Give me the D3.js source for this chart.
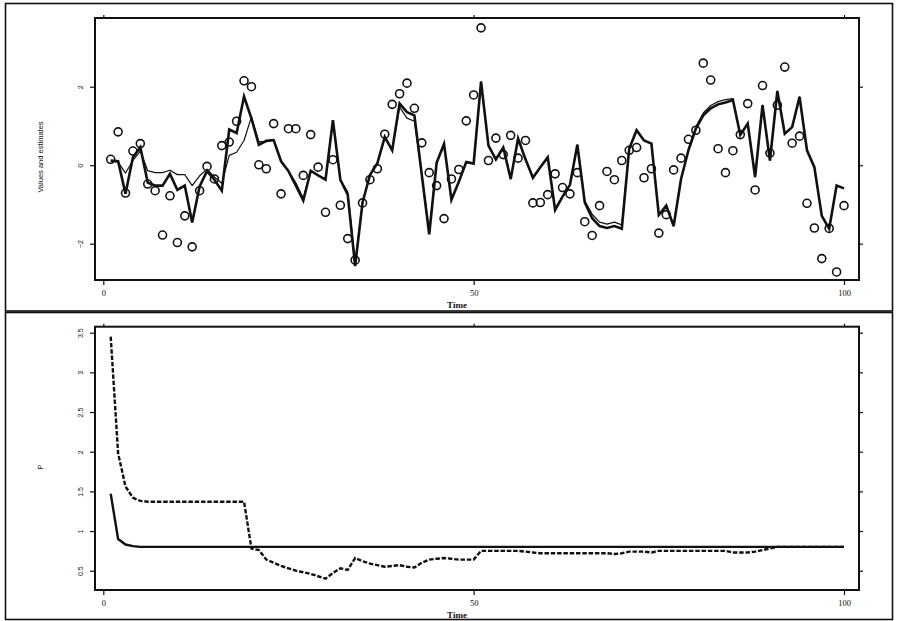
<!DOCTYPE html>
<html>
<head>
<meta charset="utf-8">
<script src="https://cdn.jsdelivr.net/npm/d3@7"></script>
<style>
  body { margin: 0; background: #fff; }
  svg { display: block; }
</style>
</head>
<body>
<svg id="chart" width="898" height="621"></svg>
<script>
// time index 1..100
const time = d3.range(1, 101);

// observed values (circles), top panel
const observed = [
  0.15, 0.85, -0.71, 0.36, 0.55, -0.48, -0.65, -1.78, -0.78, -1.97,
  -1.29, -2.08, -0.65, -0.03, -0.35, 0.50, 0.59, 1.12, 2.15, 2.00,
  0.01, -0.09, 1.06, -0.73, 0.93, 0.93, -0.26, 0.78, -0.05, -1.20,
  0.14, -1.02, -1.87, -2.42, -0.96, -0.37, -0.09, 0.79, 1.55, 1.82,
  2.09, 1.45, 0.57, -0.19, -0.52, -1.36, -0.35, -0.11, 1.13, 1.79,
  3.50, 0.12, 0.69, 0.27, 0.76, 0.18, 0.63, -0.96, -0.95, -0.75,
  -0.22, -0.57, -0.73, -0.19, -1.44, -1.79, -1.03, -0.16, -0.37, 0.12,
  0.38, 0.45, -0.32, -0.09, -1.73, -1.26, -0.12, 0.18, 0.66, 0.89,
  2.60, 2.17, 0.42, -0.19, 0.37, 0.78, 1.57, -0.63, 2.03, 0.31,
  1.53, 2.50, 0.56, 0.74, -0.97, -1.60, -2.38, -1.61, -2.72, -1.03
];

// thick estimate
const estA = [
  0.12, 0.10, -0.73, 0.20, 0.46, -0.44, -0.52, -0.52, -0.22, -0.63,
  -0.52, -1.46, -0.54, -0.15, -0.37, -0.65, 0.91, 0.82, 1.75, 1.19,
  0.52, 0.62, 0.64, 0.10, -0.15, -0.52, -0.90, -0.14, -0.26, -0.37,
  1.15, -0.37, -0.75, -2.57, -0.95, -0.25, 0.05, 0.72, 0.38, 1.57,
  1.35, 1.27, -0.25, -1.76, 0.06, 0.54, -0.88, -0.42, 0.08, 0.04,
  2.13, 0.50, 0.15, 0.45, -0.35, 0.68, 0.15, -0.32, -0.05, 0.20,
  -1.14, -0.80, -0.50, 0.52, -0.95, -1.35, -1.55, -1.60, -1.55, -1.62,
  0.42, 0.89, 0.63, 0.55, -1.27, -1.03, -1.55, -0.35, 0.38, 0.93,
  1.27, 1.45, 1.55, 1.60, 1.66, 0.77, 1.06, -0.30, 1.53, 0.12,
  1.89, 0.80, 0.97, 1.74, 0.38, -0.05, -1.29, -1.62, -0.52, -0.59
];

// thin estimate
const estB = [
  0.10, 0.08, -0.20, 0.12, 0.36, -0.14, -0.19, -0.19, -0.13, -0.24,
  -0.24, -0.52, -0.27, -0.10, -0.30, -0.46, 0.25, 0.33, 0.63, 1.23,
  0.60, 0.60, 0.64, 0.10, -0.15, -0.45, -0.84, -0.14, -0.26, -0.37,
  1.12, -0.37, -0.68, -2.45, -0.95, -0.25, 0.05, 0.70, 0.38, 1.48,
  1.20, 1.12, -0.25, -1.70, 0.06, 0.54, -0.86, -0.42, 0.08, 0.04,
  2.13, 0.50, 0.15, 0.45, -0.35, 0.68, 0.15, -0.32, -0.05, 0.20,
  -1.12, -0.80, -0.50, 0.52, -0.90, -1.25, -1.45, -1.50, -1.45, -1.52,
  0.42, 0.89, 0.63, 0.55, -1.27, -1.03, -1.55, -0.35, 0.42, 0.98,
  1.33, 1.52, 1.62, 1.67, 1.70, 0.77, 1.06, -0.30, 1.53, 0.12,
  1.89, 0.80, 0.97, 1.74, 0.38, -0.05, -1.29, -1.62, -0.52, -0.59
];

// bottom panel, solid line
const pSolid = [
  1.47, 0.90, 0.83, 0.81, 0.80, 0.80, 0.80, 0.80, 0.80, 0.80,
  0.80, 0.80, 0.80, 0.80, 0.80, 0.80, 0.80, 0.80, 0.80, 0.80,
  0.80, 0.80, 0.80, 0.80, 0.80, 0.80, 0.80, 0.80, 0.80, 0.80,
  0.80, 0.80, 0.80, 0.80, 0.80, 0.80, 0.80, 0.80, 0.80, 0.80,
  0.80, 0.80, 0.80, 0.80, 0.80, 0.80, 0.80, 0.80, 0.80, 0.80,
  0.80, 0.80, 0.80, 0.80, 0.80, 0.80, 0.80, 0.80, 0.80, 0.80,
  0.80, 0.80, 0.80, 0.80, 0.80, 0.80, 0.80, 0.80, 0.80, 0.80,
  0.80, 0.80, 0.80, 0.80, 0.80, 0.80, 0.80, 0.80, 0.80, 0.80,
  0.80, 0.80, 0.80, 0.80, 0.80, 0.80, 0.80, 0.80, 0.80, 0.80,
  0.80, 0.80, 0.80, 0.80, 0.80, 0.80, 0.80, 0.80, 0.80, 0.80
];

// bottom panel, dashed line
const pDashed = [
  3.45, 1.98, 1.56, 1.42, 1.38, 1.37, 1.37, 1.37, 1.37, 1.37,
  1.37, 1.37, 1.37, 1.37, 1.37, 1.37, 1.37, 1.37, 1.37, 0.78,
  0.76, 0.64, 0.60, 0.56, 0.53, 0.50, 0.48, 0.46, 0.43, 0.40,
  0.47, 0.53, 0.51, 0.66, 0.62, 0.59, 0.57, 0.55, 0.56, 0.57,
  0.55, 0.54, 0.60, 0.64, 0.65, 0.66, 0.65, 0.64, 0.64, 0.64,
  0.75, 0.75, 0.75, 0.75, 0.75, 0.75, 0.74, 0.73, 0.72, 0.72,
  0.72, 0.72, 0.72, 0.72, 0.72, 0.72, 0.72, 0.72, 0.71, 0.72,
  0.74, 0.74, 0.74, 0.73, 0.75, 0.75, 0.75, 0.75, 0.75, 0.75,
  0.75, 0.75, 0.75, 0.75, 0.73, 0.73, 0.73, 0.74, 0.76, 0.78,
  0.80, 0.80, 0.80, 0.80, 0.80, 0.80, 0.80, 0.80, 0.80, 0.80
];

const xTicks = [0, 50, 100];
const topYTicks = [-2, 0, 2];
const botYTicks = [0.5, 1, 1.5, 2, 2.5, 3, 3.5];

const ink = '#111';
const svg = d3.select('#chart');

const x = d3.scaleLinear().domain([0, 100]).range([103.3, 844]);
const yTop = d3.scaleLinear().domain([-2, 2]).range([243.7, 86.7]);
const yBot = d3.scaleLinear().domain([0.5, 3.5]).range([570.7, 332.7]);

// outer frames of the two panels
svg.append('rect').attr('x', 5.5).attr('y', 3.5).attr('width', 887).attr('height', 307.5)
  .attr('fill', 'none').attr('stroke', ink).attr('stroke-width', 1.6);
svg.append('rect').attr('x', 5.5).attr('y', 312.5).attr('width', 887).attr('height', 307)
  .attr('fill', 'none').attr('stroke', ink).attr('stroke-width', 1.6);

function styleAxis(g) {
  g.select('.domain').remove();
  g.selectAll('line').attr('stroke', ink).attr('stroke-width', 1.2);
}

function drawPanel(box, y, yTicks, ylabel, ylabelY) {
  const g = svg.append('g');

  g.append('rect')
    .attr('x', box.left).attr('y', box.top)
    .attr('width', box.right - box.left).attr('height', box.bottom - box.top)
    .attr('fill', 'none').attr('stroke', ink).attr('stroke-width', 2);

  // bottom axis with labels
  const xb = g.append('g')
    .attr('transform', 'translate(0,' + box.bottom + ')')
    .call(d3.axisBottom(x).tickValues(xTicks).tickSize(5).tickPadding(5).tickFormat(d3.format('d')));
  styleAxis(xb);
  xb.selectAll('text').attr('fill', ink)
    .style('font-family', '"Liberation Serif", "Times New Roman", serif').style('font-size', '8.5px');

  // top axis, ticks only
  const xt = g.append('g')
    .attr('transform', 'translate(0,' + box.top + ')')
    .call(d3.axisTop(x).tickValues(xTicks).tickSize(3).tickFormat(''));
  styleAxis(xt);

  // left axis, labels parallel to axis
  const yl = g.append('g')
    .attr('transform', 'translate(' + box.left + ',0)')
    .call(d3.axisLeft(y).tickValues(yTicks).tickSize(5).tickFormat(d3.format('')));
  styleAxis(yl);
  yl.selectAll('text')
    .attr('x', 0).attr('dy', 0).attr('text-anchor', 'middle')
    .attr('transform', 'translate(-12,0) rotate(-90)')
    .attr('fill', ink)
    .style('font-family', '"Liberation Sans", Arial, sans-serif').style('font-size', '7px');

  // right axis, ticks only
  const yr = g.append('g')
    .attr('transform', 'translate(' + box.right + ',0)')
    .call(d3.axisRight(y).tickValues(yTicks).tickSize(4).tickFormat(''));
  styleAxis(yr);

  g.append('text')
    .attr('x', 457).attr('y', box.bottom + 28)
    .attr('text-anchor', 'middle').attr('fill', ink)
    .style('font-family', '"Liberation Serif", "Times New Roman", serif')
    .style('font-size', '9px').style('font-weight', 'bold')
    .text('Time');

  g.append('text')
    .attr('transform', 'translate(43,' + ylabelY + ') rotate(-90)')
    .attr('text-anchor', 'middle').attr('fill', ink)
    .style('font-family', '"Liberation Sans", Arial, sans-serif').style('font-size', '7.5px')
    .text(ylabel);

  return g;
}

// top panel: values and estimates
const topBox = { left: 95, right: 859, top: 18, bottom: 280 };
const topPanel = drawPanel(topBox, yTop, topYTicks, 'Values and estimates', 157);

topPanel.append('g').selectAll('circle')
  .data(observed)
  .enter()
  .append('circle')
  .attr('cx', (d, i) => x(time[i]))
  .attr('cy', d => yTop(d))
  .attr('r', 4)
  .attr('fill', 'none')
  .attr('stroke', ink)
  .attr('stroke-width', 1.6);

const lineTop = d3.line().x((d, i) => x(time[i])).y(d => yTop(d));

topPanel.append('path')
  .datum(estB)
  .attr('fill', 'none').attr('stroke', ink).attr('stroke-width', 1.2)
  .attr('stroke-linejoin', 'round')
  .attr('d', lineTop);

topPanel.append('path')
  .datum(estA)
  .attr('fill', 'none').attr('stroke', ink).attr('stroke-width', 2.6)
  .attr('stroke-linejoin', 'miter')
  .attr('d', lineTop);

// bottom panel: P
const botBox = { left: 95, right: 859, top: 326.7, bottom: 590 };
const botPanel = drawPanel(botBox, yBot, botYTicks, 'P', 467);

const lineBot = d3.line().x((d, i) => x(time[i])).y(d => yBot(d));

botPanel.append('path')
  .datum(pSolid)
  .attr('fill', 'none').attr('stroke', ink).attr('stroke-width', 2.4)
  .attr('d', lineBot);

botPanel.append('path')
  .datum(pDashed)
  .attr('fill', 'none').attr('stroke', ink).attr('stroke-width', 2.4)
  .attr('stroke-dasharray', '4.5,1.8')
  .attr('d', lineBot);
</script>
</body>
</html>
